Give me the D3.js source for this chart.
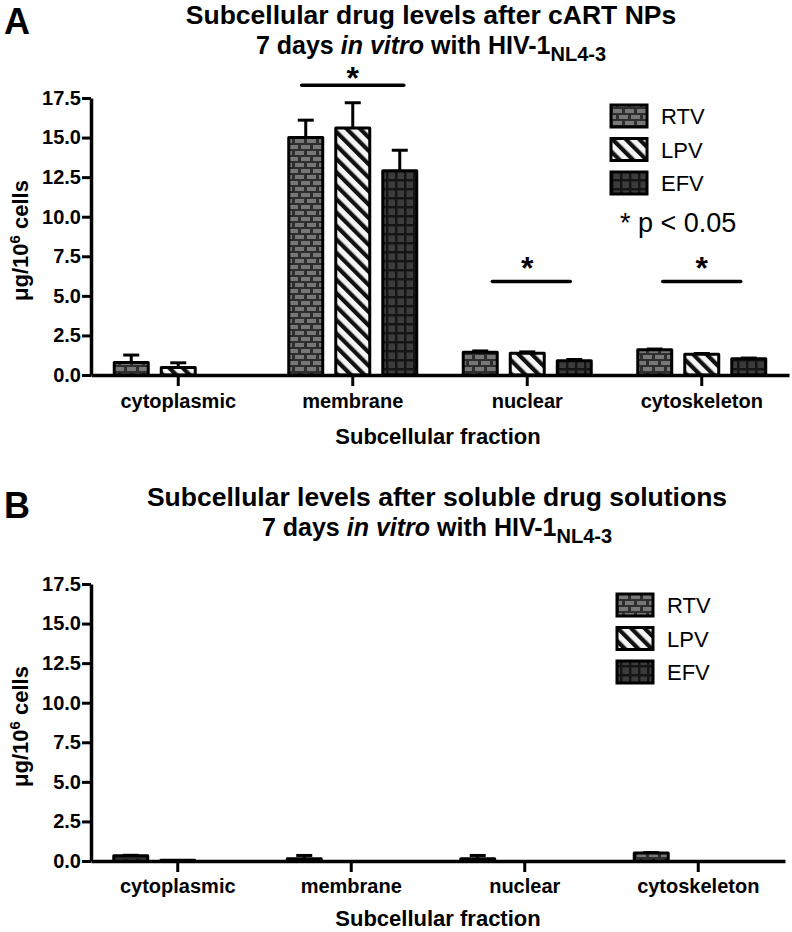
<!DOCTYPE html>
<html><head><meta charset="utf-8">
<script src="https://cdn.jsdelivr.net/npm/d3@7"></script>
<style>body{margin:0;background:#fff} svg{display:block}</style>
</head><body>
<svg id="chart" width="792" height="932"></svg>
<script>
const categories = ["cytoplasmic","membrane","nuclear","cytoskeleton"];
const series = ["RTV","LPV","EFV"];
const yTicks = [0,2.5,5,7.5,10,12.5,15,17.5];
// Panel A: after cART NPs
const npRTV = [0.79, 15.0, 1.44, 1.59];
const npRTVErr = [0.47, 1.1, 0.08, 0.05];
const npLPV = [0.47, 15.6, 1.38, 1.31];
const npLPVErr = [0.3, 1.6, 0.08, 0.05];
const npEFV = [0, 12.9, 0.9, 1.02];
const npEFVErr = [0, 1.3, 0.08, 0.05];
// Panel B: after soluble drug solutions
const solRTV = [0.33, 0.15, 0.15, 0.5];
const solRTVErr = [0.03, 0.2, 0.2, 0.03];
const solLPV = [0.04, 0, 0, 0];
const solLPVErr = [0, 0, 0, 0];
const solEFV = [0, 0, 0, 0];
const solEFVErr = [0, 0, 0, 0];
// significance markers (panel A)
const sigCats = ["membrane","nuclear","cytoskeleton"];
const sigLevel = [18.3, 5.9, 5.9];

const FONT = "'Liberation Sans', Arial, Helvetica, sans-serif";
const svg = d3.select("#chart").style("font-family", FONT);
const defs = svg.append("defs");

// RTV brick pattern
const pb = defs.append("pattern").attr("id","brick").attr("patternUnits","userSpaceOnUse")
  .attr("width",12).attr("height",12);
pb.append("rect").attr("width",12).attr("height",12).attr("fill","#2e2e2e");
[[1,1,9],[-5,7,9],[7,7,9]].forEach(([x,y,w])=>pb.append("rect").attr("x",x).attr("y",y).attr("width",w).attr("height",4).attr("fill","#777"));
// LPV stripes
const ps = defs.append("pattern").attr("id","stripe").attr("patternUnits","userSpaceOnUse")
  .attr("width",9.5).attr("height",9.5).attr("patternTransform","rotate(-45)");
ps.append("rect").attr("width",9.5).attr("height",9.5).attr("fill","#f4f4f4");
ps.append("rect").attr("width",4.2).attr("height",9.5).attr("fill","#111");
// EFV grid
const pg = defs.append("pattern").attr("id","grid").attr("patternUnits","userSpaceOnUse")
  .attr("width",9).attr("height",9);
pg.append("rect").attr("width",9).attr("height",9).attr("fill","#151515");
pg.append("rect").attr("x",1.5).attr("y",1.5).attr("width",6.5).attr("height",6.5).attr("fill","#3c3c3c");

const fills = {RTV:"url(#brick)", LPV:"url(#stripe)", EFV:"url(#grid)"};

function panel(opt){
  const g = svg.append("g");
  const x0 = d3.scaleBand().domain(categories).range(opt.xr).paddingInner(0).paddingOuter(0);
  const x1 = d3.scaleBand().domain(series).range([-64,64]).paddingInner(0.277).paddingOuter(0);
  const y = d3.scaleLinear().domain([0,17.5]).range(opt.yr);
  const cx = c => x0(c) + x0.bandwidth()/2;

  // bars
  const rows = [];
  categories.forEach((c,i)=>series.forEach((s,j)=>{
    rows.push({c, s, v: opt.vals[j][i], e: opt.errs[j][i]});
  }));
  rows.forEach(d=>{
    if (d.v <= 0) return;
    const bx = cx(d.c) + x1(d.s);
    const bw = x1.bandwidth();
    const top = y(d.v);
    if (d.e > 0) {
      const mx = bx + bw/2, et = y(d.v + d.e);
      g.append("line").attr("x1",mx).attr("x2",mx).attr("y1",top).attr("y2",et)
        .attr("stroke","#000").attr("stroke-width",3);
      g.append("line").attr("x1",mx-8).attr("x2",mx+8).attr("y1",et).attr("y2",et)
        .attr("stroke","#000").attr("stroke-width",3);
    }
    g.append("rect").attr("x",bx).attr("y",top).attr("width",bw).attr("height",Math.max(0.5,y(0)-top))
      .attr("fill",fills[d.s]).attr("stroke","#000").attr("stroke-width",3).attr("stroke-linejoin","round");
  });

  // axes
  const ya = g.append("g").attr("transform",`translate(${opt.xr[0]},0)`)
    .call(d3.axisLeft(y).tickValues(yTicks).tickFormat(d3.format(".1f")).tickSize(9).tickSizeOuter(0));
  ya.select(".domain").attr("stroke-width",3.5);
  ya.selectAll(".tick line").attr("stroke-width",3);
  ya.selectAll(".tick text").attr("font-size",20).attr("font-weight","bold").attr("font-family",FONT).attr("x",-10).attr("fill","#000");
  const xa = g.append("g").attr("transform",`translate(0,${opt.yr[0]})`)
    .call(d3.axisBottom(x0).tickSize(11).tickSizeOuter(0));
  xa.select(".domain").attr("stroke-width",3.5);
  xa.selectAll(".tick line").attr("stroke-width",3);
  xa.selectAll(".tick text").attr("font-size",20).attr("font-weight","bold").attr("font-family",FONT)
    .attr("y",opt.catDy).attr("dy",0).attr("fill","#000");

  // axis titles
  g.append("text").attr("x",438).attr("y",opt.xTitleY).attr("text-anchor","middle")
    .attr("font-size",22).attr("font-weight","bold").text("Subcellular fraction");
  const yl = g.append("text").attr("transform",`translate(28,${(opt.yr[0]+opt.yr[1])/2+4}) rotate(-90)`)
    .attr("text-anchor","middle").attr("font-size",22).attr("font-weight","bold");
  yl.append("tspan").text("μg/10");
  yl.append("tspan").attr("dy",-8).attr("font-size",15).text("6");
  yl.append("tspan").attr("dy",8).text(" cells");

  // panel letter and title
  g.append("text").attr("x",4).attr("y",opt.letterY).attr("font-size",36).attr("font-weight","bold").text(opt.letter);
  g.append("text").attr("x",opt.tcx).attr("y",opt.t1y).attr("text-anchor","middle")
    .attr("font-size",26.5).attr("font-weight","bold").text(opt.title);
  const t2 = g.append("text").attr("x",opt.tcx).attr("y",opt.t1y+30).attr("text-anchor","middle")
    .attr("font-size",25).attr("font-weight","bold");
  t2.append("tspan").text("7 days ");
  t2.append("tspan").attr("font-style","italic").text("in vitro");
  t2.append("tspan").text(" with HIV-1");
  t2.append("tspan").attr("dy",7).attr("font-size",20).text("NL4-3");

  // legend
  series.forEach((s,i)=>{
    const ly = opt.legY + i*33.5;
    g.append("rect").attr("x",opt.legX).attr("y",ly-11).attr("width",36).attr("height",22)
      .attr("fill",fills[s]).attr("stroke","#000").attr("stroke-width",3);
    g.append("text").attr("x",opt.legX+50).attr("y",ly+8).attr("font-size",22).text(s);
  });

  return {g, x0, x1, y, cx};
}

const A = panel({xr:[91,789], yr:[375,98], vals:[npRTV,npLPV,npEFV], errs:[npRTVErr,npLPVErr,npEFVErr],
  catDy:33, xTitleY:444, letter:"A", letterY:34, tcx:431, t1y:24,
  title:"Subcellular drug levels after cART NPs", legX:611, legY:116});
const B = panel({xr:[91,785], yr:[861,584], vals:[solRTV,solLPV,solEFV], errs:[solRTVErr,solLPVErr,solEFVErr],
  catDy:32, xTitleY:926, letter:"B", letterY:518, tcx:437, t1y:506,
  title:"Subcellular levels after soluble drug solutions", legX:617, legY:605});

// significance markers
const halfW = {membrane:51, nuclear:39, cytoskeleton:39};
const starOff = {membrane:4, nuclear:-3, cytoskeleton:-3};
sigCats.forEach((c,i)=>{
  const mx = A.cx(c) + (c==="nuclear"?4:0), ly = A.y(sigLevel[i]);
  A.g.append("line").attr("x1",mx-halfW[c]).attr("x2",mx+halfW[c]).attr("y1",ly).attr("y2",ly)
    .attr("stroke","#000").attr("stroke-width",3.5).attr("stroke-linecap","round");
  A.g.append("text").attr("x",A.cx(c)).attr("y",ly+starOff[c]).attr("text-anchor","middle")
    .attr("font-size",32).attr("font-weight","bold").text("*");
});
A.g.append("text").attr("x",620).attr("y",232).attr("font-size",27).text("* p < 0.05");
</script>
</body></html>
